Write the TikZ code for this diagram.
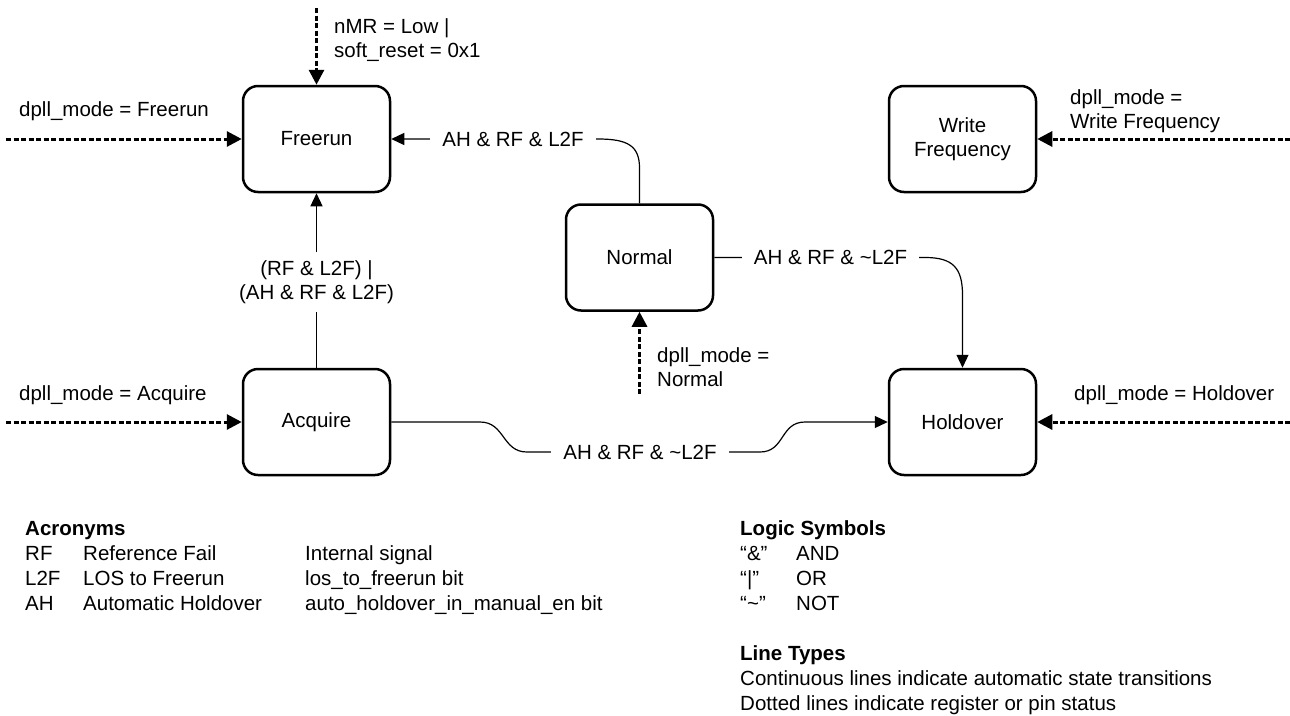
\documentclass[tikz,border=0pt]{standalone}
\usepackage{fontspec}
\setmainfont{Liberation Sans}
\usetikzlibrary{arrows.meta}
\begin{document}
\begin{tikzpicture}[x=1pt,y=-1pt,
  font=\fontsize{20.5}{24.5}\selectfont,
  state/.style={draw, line width=2.5pt, rounded corners=15pt, minimum width=147pt, minimum height=106pt, align=center, inner sep=0pt},
  conn/.style={line width=1.2pt, -{Triangle[length=13pt,width=12pt]}},
  reg/.style={line width=3pt, dash pattern=on 5pt off 2.5pt, -{Triangle[length=15pt,width=15pt]}},
  lbl/.style={inner sep=0pt, align=left, anchor=west},
  sl/.style={inner sep=0pt, anchor=base west},
  onl/.style={fill=white, inner xsep=12pt, inner ysep=6pt, align=center},
  head/.style={inner sep=0pt, anchor=base west, font=\fontsize{20.5}{25}\selectfont\bfseries},
  leg/.style={inner sep=0pt, anchor=base west},
]
\useasboundingbox (0,0) rectangle (1290,715);

% states
\node[state] (free) at (316.5,139) {Freerun};
\node[state] (wf)   at (962.5,139) {Write\\Frequency};
\node[state] (norm) at (639.5,257.5) {Normal};
\node[state] (acq)  at (316.5,422) {Acquire};
\node[state] (hold) at (962.5,422) {Holdover};

% free ends of register inputs
\coordinate (topin)  at (316.5,8);
\coordinate (freein) at (6,139);
\coordinate (acqin)  at (6,422);
\coordinate (wfin)   at (1290,139);
\coordinate (holdin) at (1290,422);
\coordinate (normin) at (639.5,394);

\draw[reg] (topin)  -- (free.north);
\draw[reg] (freein) -- (free.west);
\draw[reg] (acqin)  -- (acq.west);
\draw[reg] (wfin)   -- (wf.east);
\draw[reg] (holdin) -- (hold.east);
\draw[reg] (normin) -- (norm.south);

% automatic transitions
\draw[conn] (norm.north) -- (639.5,168) .. controls (639.5,146) and (628,139) .. (598,139) -- (free.east);
\node[onl] (l1) at (513,139) {AH \& RF \& L2F};

\draw[conn] (acq.north) -- (free.south);
\node[onl, inner ysep=8pt] (l2) at (316.5,282) {(RF \& L2F) |\\(AH \& RF \& L2F)};

\draw[conn] (norm.east) -- (925,257.5) .. controls (953,257.5) and (962.5,268) .. (962.5,295) -- (hold.north);
\node[onl] (l3) at (830.5,257.5) {AH \& RF \& \textasciitilde L2F};

\draw[conn] (acq.east) -- (480,422) .. controls (505,422) and (502,452) .. (527,452) -- (760,452) .. controls (785,452) and (780,422) .. (805,422) -- (hold.west);
\node[onl] (l4) at (640,452) {AH \& RF \& \textasciitilde L2F};

% register labels
\node[lbl] (t1) at (334,40) {nMR = Low |\\soft\_reset = 0x1};
\node[sl]  (t2) at (19,116) {dpll\_mode = Freerun};
\node[sl]  (t3) at (19,400) {dpll\_mode = Acquire};
\node[sl]  (t4) at (1074,400) {dpll\_mode = Holdover};
\node[lbl] (t5) at (1070,111) {dpll\_mode =\\Write Frequency};
\node[lbl] (t6) at (657,367) {dpll\_mode =\\Normal};

% legend: acronyms
\node[head] (ac) at (25,535.3) {Acronyms};
\node[leg] (a11) at (25,560.3) {RF};
\node[leg] (a12) at (83,560.3) {Reference Fail};
\node[leg] (a13) at (305,560.3) {Internal signal};
\node[leg] (a21) at (25,585.3) {L2F};
\node[leg] (a22) at (83,585.3) {LOS to Freerun};
\node[leg] (a23) at (305,585.3) {los\_to\_freerun bit};
\node[leg] (a31) at (25,610.3) {AH};
\node[leg] (a32) at (83,610.3) {Automatic Holdover};
\node[leg] (a33) at (305,610.3) {auto\_holdover\_in\_manual\_en bit};

% legend: logic symbols
\node[head] (ls) at (740,535.3) {Logic Symbols};
\node[leg] (s11) at (740,560.3) {“\&”};
\node[leg] (s12) at (796,560.3) {AND};
\node[leg] (s21) at (740,585.3) {“|”};
\node[leg] (s22) at (796,585.3) {OR};
\node[leg] (s31) at (740,610.3) {“\textasciitilde”};
\node[leg] (s32) at (796,610.3) {NOT};

% legend: line types
\node[head] (lt) at (740,660.3) {Line Types};
\node[leg] (lt1) at (740,685.3) {Continuous lines indicate automatic state transitions};
\node[leg] (lt2) at (740,710.3) {Dotted lines indicate register or pin status};
\end{tikzpicture}
\end{document}
